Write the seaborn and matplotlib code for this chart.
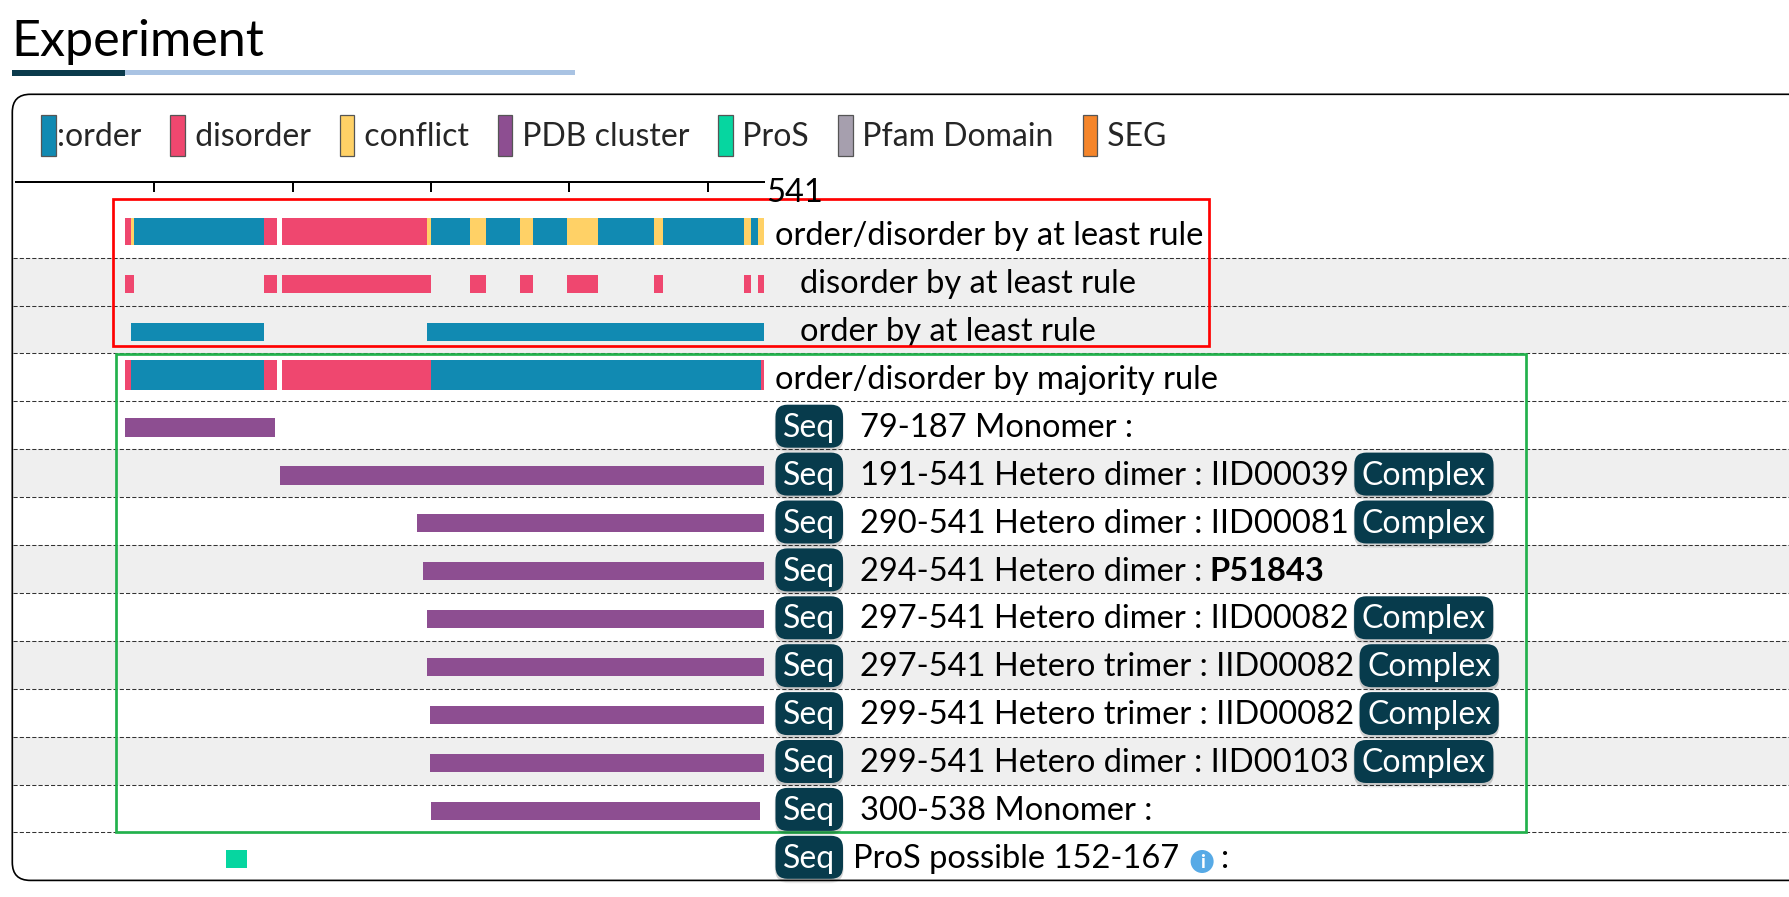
import matplotlib
matplotlib.use('Agg')
import matplotlib.pyplot as plt
import matplotlib.transforms as mtransforms
from matplotlib.patches import FancyBboxPatch, Rectangle, Patch, Circle
import seaborn as sns

sns.set_theme(style='white')
plt.rcParams['font.family'] = ['Lato', 'DejaVu Sans']

# ---------------- data ----------------
SEQ_LEN = 541

legend_keys = ['order', 'disorder', 'conflict', 'pdb', 'pros', 'pfam', 'seg']
legend_labels = [':order', ' disorder', ' conflict', ' PDB cluster', ' ProS', ' Pfam Domain', ' SEG']

# order/disorder by at least rule
least_start = [79, 83, 85, 179, 192, 297, 300, 328, 340, 364, 374, 398, 421, 461, 468, 526, 531, 536]
least_end = [83, 85, 179, 189, 297, 300, 328, 340, 364, 374, 398, 421, 461, 468, 526, 531, 536, 541.4]
least_kind = ['disorder', 'conflict', 'order', 'disorder', 'disorder', 'conflict', 'order', 'conflict',
              'order', 'conflict', 'order', 'conflict', 'order', 'conflict', 'order', 'conflict',
              'order', 'conflict']

# disorder by at least rule
disorder_start = [79, 179, 192, 328, 364, 398, 461, 526, 536]
disorder_end = [85, 189, 300, 340, 374, 421, 468, 531, 541.4]

# order by at least rule
order_start = [83, 297]
order_end = [179, 541.4]

# order/disorder by majority rule
major_start = [79, 83, 179, 192, 300, 538.5]
major_end = [83, 179, 189, 300, 538.5, 541.4]
major_kind = ['disorder', 'order', 'disorder', 'disorder', 'order', 'disorder']

track_labels = ['order/disorder by at least rule', 'disorder by at least rule',
                'order by at least rule', 'order/disorder by majority rule']

# PDB clusters
pdb_start = [79, 191, 290, 294, 297, 297, 299, 299, 300]
pdb_end = [187, 541, 541, 541, 541, 541, 541, 541, 538]
pdb_kind = ['Monomer', 'Hetero dimer', 'Hetero dimer', 'Hetero dimer', 'Hetero dimer',
            'Hetero trimer', 'Hetero trimer', 'Hetero dimer', 'Monomer']
pdb_partner = ['', 'IID00039', 'IID00081', 'P51843', 'IID00082', 'IID00082', 'IID00082', 'IID00103', '']
pdb_complex = [False, True, True, False, True, True, True, True, False]

# ProS
pros_start = [152]
pros_end = [167]

ruler_ticks = [100, 200, 300, 400, 500]

# ---------------- style ----------------
COLORS = {
    'order': '#118ab2', 'disorder': '#ef476f', 'conflict': '#ffd166',
    'pdb': '#8d4e91', 'pros': '#06d6a0', 'pfam': '#a69fae', 'seg': '#f5852a',
}
BTN = '#073b4c'
GRAY_ROW = '#efefef'

W, H = 1789, 897
TOP, ROW_H = 209.8, 47.9
N_ROWS = 14
gray_rows = [1, 2, 5, 7, 9, 11]
FS = 23.5          # label font size (pt)
LEG_FS = 23
BTN_FS = 23
LEG_PX = LEG_FS * 100 / 72


def row_top(i):
    return TOP + i * ROW_H


fig = plt.figure(figsize=(W / 100, H / 100), dpi=100)

# overlay in pixel coordinates
ov = fig.add_axes([0, 0, 1, 1], zorder=0)
ov.set_xlim(0, W)
ov.set_ylim(H, 0)
ov.axis('off')

# track axes in residue coordinates
x0_px, x1_px = 16.0, 16.0 + 1.3835 * SEQ_LEN
y_bottom = row_top(N_ROWS)
trk = fig.add_axes([x0_px / W, 1 - y_bottom / H, (x1_px - x0_px) / W, (y_bottom - TOP) / H], zorder=1)
trk.set_xlim(0, SEQ_LEN)
trk.set_ylim(N_ROWS, 0)
trk.patch.set_alpha(0)
for side in ['left', 'right', 'bottom']:
    trk.spines[side].set_visible(False)
trk.spines['top'].set_position(('outward', (TOP - 181.7) * 0.72))
trk.spines['top'].set_linewidth(1.44)
trk.spines['top'].set_color('black')
trk.set_yticks([])
trk.set_xticks(ruler_ticks)
trk.tick_params(axis='x', top=True, bottom=False, direction='in', length=7.2, width=1.44,
                color='black', labeltop=False, labelbottom=False)
blend = mtransforms.blended_transform_factory(trk.transData, ov.transData)
trk.annotate(str(SEQ_LEN), xy=(SEQ_LEN, 201.7), xycoords=blend, xytext=(1.2, 0),
             textcoords='offset points', ha='left', va='baseline', fontsize=FS, color='black',
             annotation_clip=False)

# ---------------- title ----------------
ov.text(11, 55.7, 'Experiment', fontsize=36.2, ha='left', va='baseline', color='black')
ov.add_patch(Rectangle((125, 70.3), 450, 4.4, fc='#a9c3e3', ec='none'))
ov.add_patch(Rectangle((12, 70.3), 113, 5.4, fc='#0b3b4c', ec='none'))

# ---------------- outer box, rows ----------------
for i in gray_rows:
    ov.add_patch(Rectangle((12.5, row_top(i)), W, ROW_H, fc=GRAY_ROW, ec='none', zorder=0))
for i in range(1, N_ROWS):
    ov.plot([12.5, W], [row_top(i)] * 2, color='#333333', lw=0.75, ls=(0, (4, 2)), zorder=1)
ov.add_patch(FancyBboxPatch((12.3, 94.3), 1900, row_top(N_ROWS) - 94.3,
                            boxstyle='round,pad=0,rounding_size=18', fc='none', ec='black',
                            lw=1.2, zorder=2))

# legend
handles = [Patch(facecolor=COLORS[k], edgecolor='#555555', linewidth=0.9) for k in legend_keys]
fig.legend(handles, legend_labels, loc='upper left', bbox_to_anchor=(41 / W, 1 - 115.3 / H),
           ncol=len(legend_keys), frameon=False, fontsize=LEG_FS, handlelength=14.5 / LEG_PX,
           handleheight=1.60, handletextpad=1.6 / LEG_PX, columnspacing=29.0 / LEG_PX,
           borderpad=0, borderaxespad=0)

# ---------------- tracks ----------------
thin_c, thin_h = 0.545, 0.38


def draw_segments(row, starts, ends, kinds, center, height):
    for s, e, k in zip(starts, ends, kinds):
        trk.barh(row + center, e - s, left=s, height=height, color=COLORS[k], linewidth=0)


draw_segments(0, least_start, least_end, least_kind, 0.453, 0.565)
draw_segments(1, disorder_start, disorder_end, ['disorder'] * len(disorder_start), thin_c, thin_h)
draw_segments(2, order_start, order_end, ['order'] * len(order_start), thin_c, thin_h)
draw_segments(3, major_start, major_end, major_kind, 0.449, 0.626)
for j, (s, e) in enumerate(zip(pdb_start, pdb_end)):
    draw_segments(4 + j, [s], [e], ['pdb'], thin_c, thin_h)
draw_segments(13, pros_start, pros_end, ['pros'], thin_c, thin_h)

label_x = [775, 800.5, 800.5, 775]
for i, (lab, lx) in enumerate(zip(track_labels, label_x)):
    ov.text(lx, row_top(i) + 35.5, lab, fontsize=FS, ha='left', va='baseline', color='black', zorder=3)

# highlight boxes
ov.add_patch(Rectangle((113, 199.3), 1209 - 113, 346 - 199.3, fc='none', ec='#ff0000', lw=1.95, zorder=4))
ov.add_patch(Rectangle((116.3, 354), 1526 - 116.3, 832.5 - 354, fc='none', ec='#22b14c', lw=1.95, zorder=4))


def button(xa, xb, i, text):
    yt = row_top(i) + 3.3
    for k in range(3):
        ov.add_patch(FancyBboxPatch((xa - 1 + k * 0.5, yt + 2.5 + k), xb - xa + 2 - k, 43,
                                    boxstyle='round,pad=0,rounding_size=13', fc='black',
                                    ec='none', alpha=0.06, zorder=5))
    ov.add_patch(FancyBboxPatch((xa, yt), xb - xa, 43, boxstyle='round,pad=0,rounding_size=12',
                                fc=BTN, ec='none', zorder=6))
    ov.text((xa + xb) / 2, row_top(i) + 35.5, text, fontsize=BTN_FS, color='white', ha='center',
            va='baseline', zorder=7)


# PDB rows
pdb_texts = []
for j in range(len(pdb_start)):
    i = 4 + j
    button(775.5, 843, i, 'Seq')
    base = f'{pdb_start[j]}-{pdb_end[j]} {pdb_kind[j]} :'
    if pdb_partner[j] and pdb_complex[j]:
        base = base + ' ' + pdb_partner[j]
    t = ov.text(860, row_top(i) + 35.5, base, fontsize=FS, ha='left', va='baseline', color='black', zorder=3)
    pdb_texts.append(t)

# ProS row
button(775.5, 843, 13, 'Seq')
pros_txt = ov.text(853, row_top(13) + 35.5, f'ProS possible {pros_start[0]}-{pros_end[0]}',
                   fontsize=FS, ha='left', va='baseline', color='black', zorder=3)

fig.canvas.draw()
renderer = fig.canvas.get_renderer()

for j, t in enumerate(pdb_texts):
    i = 4 + j
    xe = t.get_window_extent(renderer=renderer).x1
    if pdb_complex[j]:
        ct = ov.text(0, 0, 'Complex', fontsize=BTN_FS)
        cw = ct.get_window_extent(renderer=renderer).width
        ct.remove()
        button(xe + 5.5, xe + 5.5 + cw + 15, i, 'Complex')
    elif pdb_partner[j]:
        ov.text(xe + 7, row_top(i) + 35.5, pdb_partner[j], fontsize=FS, fontweight='bold',
                ha='left', va='baseline', color='black', zorder=3)

xe = pros_txt.get_window_extent(renderer=renderer).x1
cy = row_top(13) + 29.0
ov.add_patch(Circle((xe + 23, cy), 11.5, fc='#57aae6', ec='none', zorder=3))
ov.text(xe + 23, cy + 0.5, 'i', fontsize=14, fontweight='bold', color='white', ha='center',
        va='center', zorder=4)
ov.text(xe + 42, row_top(13) + 35.5, ':', fontsize=FS, ha='left', va='baseline', color='black', zorder=3)

fig.savefig('out.png', dpi=100)
